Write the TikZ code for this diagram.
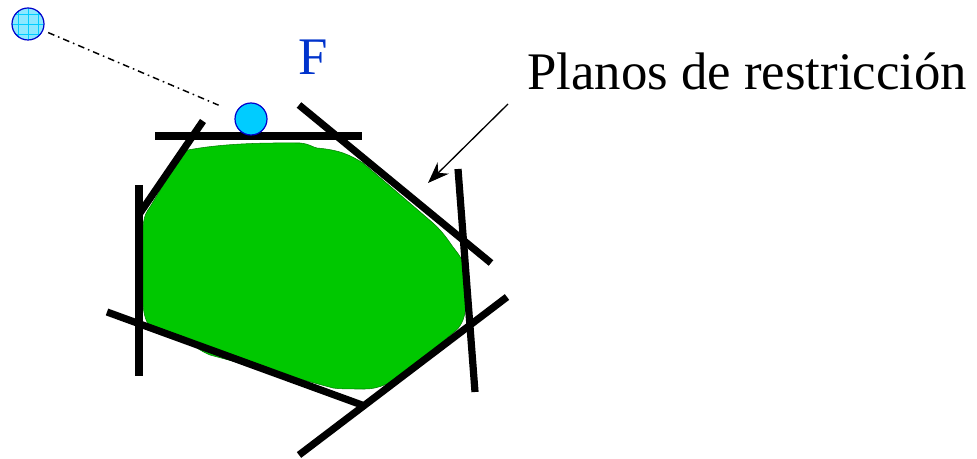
\documentclass[tikz,border=0pt]{standalone}
\usepackage{fontspec}
\setmainfont{Liberation Serif}
\usetikzlibrary{arrows.meta}
\definecolor{regiongreen}{RGB}{0,200,0}
\definecolor{ballcyan}{RGB}{0,204,255}
\definecolor{labelblue}{RGB}{0,51,204}

\begin{document}
\begin{tikzpicture}[x=0.75pt,y=-0.75pt,>={Stealth[length=16pt,width=12pt]},
  plane/.style={line width=5.4pt},
  ball/.style={circle,draw=blue!80!black,line width=0.9pt,minimum size=24pt,inner sep=0pt}]
  \useasboundingbox (0,0) rectangle (977,459);
  % region
  \draw[fill=regiongreen,draw=green!50!black,line width=0.4pt]
    (188,150) .. controls (230,142) and (280,143) .. (300,143)
    .. controls (310,144) and (312,147) .. (317,148)
    .. controls (340,150) and (350,155) .. (363,163)
    -- (433,223) .. controls (443,232) and (448,240) .. (453,247)
    .. controls (460,256) and (465,262) .. (465,275)
    .. controls (468,290) and (468,305) .. (463,320)
    .. controls (460,327) and (457,330) .. (453,333)
    -- (400,377) .. controls (385,386) and (375,389) .. (365,389)
    .. controls (350,389) and (340,389) .. (333,388)
    -- (210,355) .. controls (205,353) and (200,350) .. (197,348)
    -- (150,327) .. controls (145,320) and (143,312) .. (143,300)
    -- (143,227) .. controls (144,215) and (147,211) .. (150,207)
    -- (180,157) .. controls (182,153) and (185,151) .. (188,150) -- cycle;
  % planes
  \draw[plane] (155,136) -- (362,136);
  \draw[plane] (203,121) -- (140,213);
  \draw[plane] (139,185) -- (139,376);
  \draw[plane] (107,312) -- (362,405);
  \draw[plane] (299,455) -- (507,297);
  \draw[plane] (458,169) -- (475,392);
  \draw[plane] (299,105) -- (491,263);
  % points
  \node[ball,fill=ballcyan] (fpt) at (251,119) {};
  \node[ball,fill=ballcyan!45,
    path picture={\draw[ballcyan,line width=0.5pt]
      ([shift={(-24,-24)}]path picture bounding box.center) grid[step=7.5pt]
      ([shift={(24,24)}]path picture bounding box.center);}] (start) at (28,24) {};
  \draw[line width=1.1pt,dash pattern=on 5pt off 3pt on 1.2pt off 3pt,
    shorten <=4pt,shorten >=14pt] (start) -- (fpt);
  % labels
  \node[labelblue,font=\fontsize{39.6}{44}\selectfont,anchor=base] (flabel) at (313,75) {F};
  \node[font=\fontsize{39.6}{44}\selectfont,anchor=base west,inner sep=0pt] (planes) at (527,90) {Planos de restricción};
  \coordinate (tail) at (508,104);
  \coordinate (tip) at (428,183);
  \draw[->,line width=1pt] (tail) -- (tip);
\end{tikzpicture}
\end{document}
